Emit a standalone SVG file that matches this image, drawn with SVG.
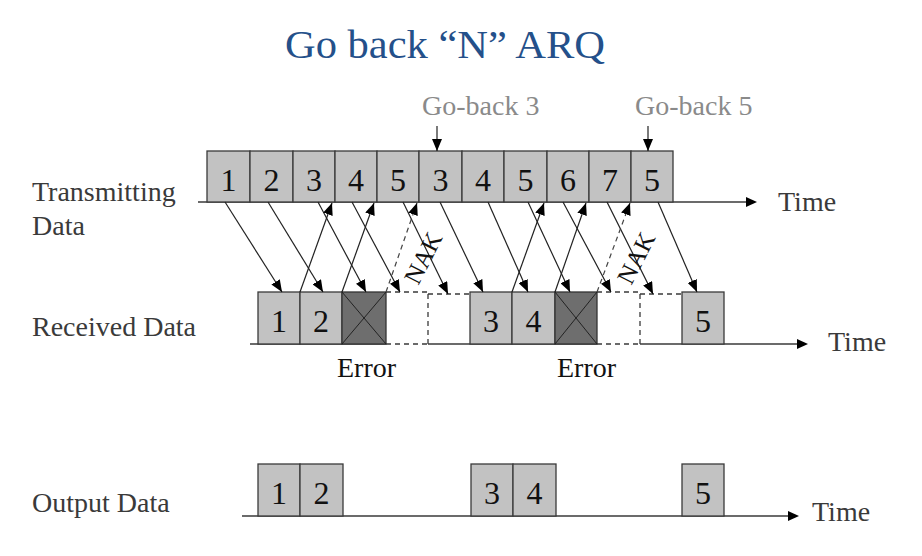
<svg xmlns="http://www.w3.org/2000/svg" width="922" height="556" viewBox="0 0 922 556">
<defs>
<style>
text{font-family:"Liberation Serif","Times New Roman",serif;}
.title{font-size:40px;fill:#24508a;}
.lbl{font-size:28px;fill:#3a3a3a;}
.gb{font-size:28px;fill:#8a8a8a;}
.num{font-size:32px;fill:#111;text-anchor:middle;}
.err{font-size:28px;fill:#111;}
.box{fill:#c2c2c2;stroke:#3a3a3a;stroke-width:1.3;}
.ebox{fill:#6e6e6e;stroke:#333;stroke-width:1.3;}
.x{stroke:#222;stroke-width:1;}
.tl{stroke:#3a3a3a;stroke-width:1.4;fill:none;}
.dl{stroke:#3a3a3a;stroke-width:1.3;stroke-dasharray:5 4;fill:none;}
.ar{stroke:#222;stroke-width:1.2;fill:none;marker-end:url(#ah);}
.nak{stroke:#444;stroke-width:1.2;stroke-dasharray:5 4;fill:none;marker-end:url(#ah);}
.nakt{font-size:25px;fill:#111;text-anchor:middle;dominant-baseline:central;}
</style>
<marker id="ah" viewBox="0 0 12 10" refX="12" refY="5" markerWidth="12" markerHeight="10" markerUnits="userSpaceOnUse" orient="auto">
<path d="M0,0 L12,5 L0,10 Z" fill="#000"/>
</marker>
</defs>

<g id="title"><text class="title" x="285" y="58" textLength="320" lengthAdjust="spacingAndGlyphs">Go back “N” ARQ</text></g>

<g id="labels">
<text class="lbl" x="32" y="201">Transmitting</text>
<text class="lbl" x="32" y="235">Data</text>
<text class="lbl" x="32" y="336">Received Data</text>
<text class="lbl" x="32" y="512">Output Data</text>
<text class="lbl" x="778" y="211">Time</text>
<text class="lbl" x="828" y="351">Time</text>
<text class="lbl" x="812" y="521">Time</text>
<text class="err" x="337" y="377">Error</text>
<text class="err" x="557" y="377">Error</text>
</g>

<g id="goback3"><text class="gb" x="422" y="115">Go-back 3</text></g>
<g id="goback5"><text class="gb" x="635" y="115">Go-back 5</text></g>

<g id="timelines">
<line class="tl" x1="198" y1="202" x2="746" y2="202"/>
<path d="M746,197 L757,202 L746,207 Z" fill="#000"/>
<line class="tl" x1="250" y1="344" x2="386" y2="344"/>
<line class="dl" x1="386" y1="344" x2="428" y2="344"/>
<line class="tl" x1="428" y1="344" x2="597" y2="344"/>
<line class="dl" x1="597" y1="344" x2="640" y2="344"/>
<line class="tl" x1="640" y1="344" x2="798" y2="344"/>
<path d="M797,339 L808,344 L797,349 Z" fill="#000"/>
<line class="tl" x1="242" y1="516" x2="789" y2="516"/>
<path d="M788,511 L799,516 L788,521 Z" fill="#000"/>
</g>

<g id="tx-frames">
<rect class="box" x="207" y="151" width="43" height="51"/><text class="num" x="228.5" y="191">1</text>
<rect class="box" x="250" y="151" width="43" height="51"/><text class="num" x="271.5" y="191">2</text>
<rect class="box" x="293" y="151" width="42" height="51"/><text class="num" x="314" y="191">3</text>
<rect class="box" x="335" y="151" width="42" height="51"/><text class="num" x="356" y="191">4</text>
<rect class="box" x="377" y="151" width="42" height="51"/><text class="num" x="398" y="191">5</text>
<rect class="box" x="419" y="151" width="43" height="51"/><text class="num" x="440.5" y="191">3</text>
<rect class="box" x="462" y="151" width="42" height="51"/><text class="num" x="483" y="191">4</text>
<rect class="box" x="504" y="151" width="43" height="51"/><text class="num" x="525.5" y="191">5</text>
<rect class="box" x="547" y="151" width="42" height="51"/><text class="num" x="568" y="191">6</text>
<rect class="box" x="589" y="151" width="42" height="51"/><text class="num" x="610" y="191">7</text>
<rect class="box" x="631" y="151" width="42" height="51"/><text class="num" x="652" y="191">5</text>
</g>

<g id="rx-frames">
<rect class="box" x="258" y="292" width="42" height="52"/><text class="num" x="279" y="332">1</text>
<rect class="box" x="300" y="292" width="42" height="52"/><text class="num" x="321" y="332">2</text>
<rect class="ebox" x="342" y="292" width="44" height="52"/>
<line class="x" x1="342" y1="292" x2="386" y2="344"/><line class="x" x1="386" y1="292" x2="342" y2="344"/>
<line class="dl" x1="386" y1="292" x2="428" y2="292"/>
<line class="dl" x1="428" y1="294" x2="470" y2="294"/>
<line class="dl" x1="428" y1="294" x2="428" y2="344"/>
<rect class="box" x="470" y="292" width="42" height="52"/><text class="num" x="491" y="332">3</text>
<rect class="box" x="512" y="292" width="43" height="52"/><text class="num" x="533.5" y="332">4</text>
<rect class="ebox" x="555" y="292" width="42" height="52"/>
<line class="x" x1="555" y1="292" x2="597" y2="344"/><line class="x" x1="597" y1="292" x2="555" y2="344"/>
<line class="dl" x1="597" y1="292" x2="640" y2="292"/>
<line class="dl" x1="640" y1="294" x2="682" y2="294"/>
<line class="dl" x1="640" y1="294" x2="640" y2="344"/>
<rect class="box" x="682" y="292" width="42" height="52"/><text class="num" x="703" y="332">5</text>
</g>

<g id="out-frames">
<rect class="box" x="258" y="464" width="42" height="52"/><text class="num" x="279" y="504">1</text>
<rect class="box" x="300" y="464" width="43" height="52"/><text class="num" x="321.5" y="504">2</text>
<rect class="box" x="471" y="464" width="42" height="52"/><text class="num" x="492" y="504">3</text>
<rect class="box" x="513" y="464" width="43" height="52"/><text class="num" x="534.5" y="504">4</text>
<rect class="box" x="682" y="464" width="42" height="52"/><text class="num" x="703" y="504">5</text>
</g>

<g id="connectors">
<line class="ar" x1="437" y1="126" x2="437" y2="151"/>
<line class="ar" x1="648" y1="126" x2="648" y2="151"/>
<line class="ar" x1="225" y1="202" x2="282" y2="292"/>
<line class="ar" x1="268" y1="202" x2="323" y2="292"/>
<line class="ar" x1="318" y1="202" x2="366" y2="292"/>
<line class="ar" x1="352" y1="202" x2="400" y2="292"/>
<line class="ar" x1="403" y1="202" x2="448" y2="294"/>
<line class="ar" x1="440" y1="202" x2="483" y2="292"/>
<line class="ar" x1="488" y1="202" x2="528" y2="292"/>
<line class="ar" x1="528" y1="202" x2="570" y2="292"/>
<line class="ar" x1="563" y1="202" x2="611" y2="292"/>
<line class="ar" x1="607" y1="202" x2="653" y2="294"/>
<line class="ar" x1="658" y1="202" x2="697" y2="292"/>
<line class="ar" x1="300" y1="292" x2="332" y2="203"/>
<line class="ar" x1="342" y1="292" x2="374" y2="203"/>
<line class="nak" x1="386" y1="292" x2="417" y2="203"/>
<line class="ar" x1="512" y1="292" x2="544" y2="203"/>
<line class="ar" x1="555" y1="292" x2="586" y2="203"/>
<line class="nak" x1="597" y1="292" x2="630" y2="203"/>
<text class="nakt" transform="translate(423,258) rotate(-63)">NAK</text>
<text class="nakt" transform="translate(636,258) rotate(-63)">NAK</text>
</g>
</svg>
